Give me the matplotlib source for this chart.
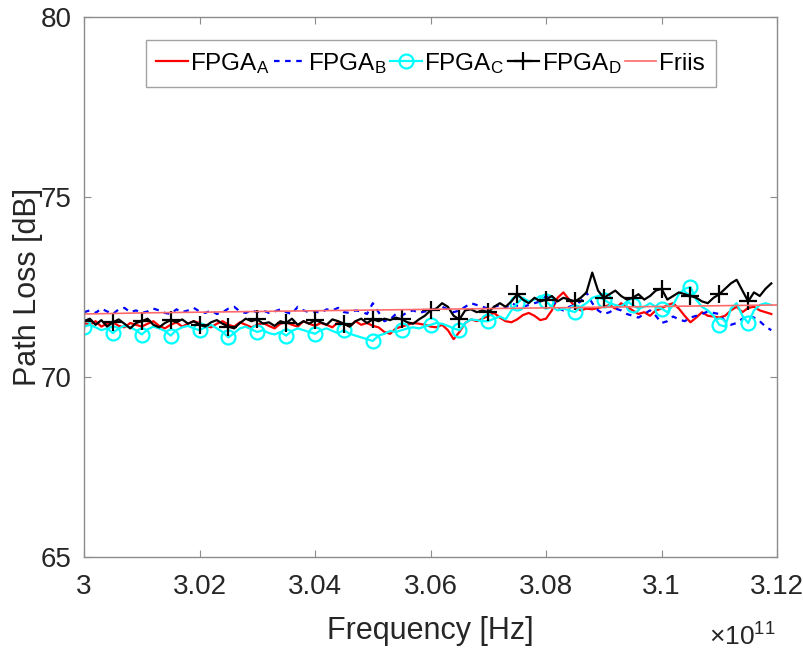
import numpy as np
import matplotlib
matplotlib.use("Agg")
import matplotlib.pyplot as plt
from matplotlib.ticker import FuncFormatter, MultipleLocator

# frequency grid in GHz: 300.0 ... 311.9, step 0.1
freq_ghz = np.round(np.arange(300.0, 312.0, 0.1), 1)

fpga_a = [
    71.50, 71.45, 71.55, 71.40, 71.48, 71.52, 71.42, 71.38, 71.50, 71.45,
    71.40, 71.48, 71.55, 71.42, 71.35, 71.45, 71.52, 71.40, 71.48, 71.55,
    71.50, 71.42, 71.38, 71.48, 71.55, 71.45, 71.40, 71.52, 71.45, 71.38,
    71.45, 71.50, 71.42, 71.35, 71.48, 71.52, 71.45, 71.40, 71.55, 71.48,
    71.42, 71.50, 71.45, 71.38, 71.52, 71.48, 71.40, 71.55, 71.45, 71.50,
    71.42, 71.38, 71.25, 71.20, 71.35, 71.40, 71.45, 71.50, 71.48, 71.45,
    71.40, 71.38, 71.45, 71.30, 71.05, 71.25, 71.50, 71.60, 71.55, 71.62,
    71.70, 71.78, 71.65, 71.55, 71.52, 71.60, 71.72, 71.78, 71.70, 71.58,
    71.62, 71.85, 72.20, 72.35, 72.15, 71.95, 71.85, 71.90, 71.88, 71.92,
    71.95, 72.00, 71.90, 72.05, 71.95, 71.85, 71.75, 71.80, 71.70, 71.85,
    71.90, 72.00, 72.05, 71.90, 71.70, 71.52, 71.65, 71.80, 71.70, 71.68,
    71.65, 71.70, 71.85, 71.95, 71.80, 71.92, 71.95, 71.85, 71.80, 71.75,
]

fpga_b = [
    71.80, 71.85, 71.78, 71.90, 71.82, 71.75, 71.88, 71.92, 71.80, 71.85,
    71.78, 71.82, 71.90, 71.85, 71.78, 71.75, 71.88, 71.80, 71.85, 71.92,
    71.82, 71.78, 71.85, 71.75, 71.80, 71.90, 71.95, 71.82, 71.78, 71.85,
    71.80, 71.85, 71.78, 71.82, 71.88, 71.80, 71.75, 71.95, 71.85, 71.80,
    71.82, 71.78, 71.88, 71.85, 71.92, 71.80, 71.78, 71.85, 71.82, 71.75,
    72.05, 71.80, 71.55, 71.60, 71.75, 71.70, 71.80, 71.85, 71.78, 71.82,
    71.85, 71.90, 71.95, 71.88, 71.80, 71.85, 71.95, 72.05, 72.00, 71.95,
    71.90, 71.95, 72.00, 71.92, 72.05, 71.98, 71.95, 72.00, 72.05, 72.10,
    72.25, 72.20, 71.90, 71.85, 71.95, 72.00, 72.10, 72.35, 72.05, 71.85,
    71.75, 71.80, 71.90, 71.85, 71.75, 71.70, 71.65, 71.75, 71.85, 71.70,
    71.50, 71.55, 71.68, 71.60, 71.55, 71.65, 71.70, 71.75, 71.82, 71.78,
    71.75, 71.55, 71.45, 71.50, 71.62, 71.70, 71.65, 71.55, 71.40, 71.30,
]

fpga_c = [
    71.40, 71.45, 71.38, 71.30, 71.35, 71.22, 71.35, 71.42, 71.38, 71.30,
    71.18, 71.32, 71.40, 71.35, 71.28, 71.15, 71.30, 71.38, 71.42, 71.35,
    71.30, 71.38, 71.45, 71.35, 71.25, 71.10, 71.22, 71.35, 71.40, 71.32,
    71.25, 71.30, 71.22, 71.18, 71.25, 71.15, 71.28, 71.35, 71.30, 71.25,
    71.20, 71.30, 71.35, 71.28, 71.22, 71.30, 71.20, 71.15, 71.10, 71.05,
    71.00, 71.15, 71.20, 71.28, 71.25, 71.30, 71.35, 71.38, 71.35, 71.40,
    71.45, 71.50, 71.48, 71.42, 71.35, 71.30, 71.50, 71.60, 71.58, 71.55,
    71.55, 71.62, 71.68, 71.60, 71.85, 72.05, 72.20, 72.10, 72.15, 72.25,
    72.10, 71.95, 71.85, 71.90, 71.85, 71.80, 71.95, 72.05, 72.20, 72.25,
    72.15, 72.05, 72.00, 71.95, 72.10, 72.00, 71.90, 71.95, 72.05, 71.95,
    71.90, 71.80, 72.00, 72.30, 72.45, 72.50, 72.15, 71.95, 71.85, 71.70,
    71.45, 71.40, 71.90, 72.05, 71.70, 71.50, 71.85, 72.00, 72.05, 72.00,
]

fpga_d = [
    71.55, 71.62, 71.45, 71.58, 71.40, 71.52, 71.60, 71.48, 71.35, 71.50,
    71.55, 71.62, 71.45, 71.38, 71.50, 71.58, 71.52, 71.60, 71.48, 71.55,
    71.45, 71.40, 71.52, 71.58, 71.48, 71.40, 71.35, 71.50, 71.62, 71.55,
    71.60, 71.48, 71.52, 71.42, 71.55, 71.50, 71.62, 71.45, 71.55, 71.48,
    71.58, 71.52, 71.45, 71.60, 71.55, 71.48, 71.40, 71.55, 71.62, 71.50,
    71.60, 71.55, 71.62, 71.58, 71.65, 71.60, 71.52, 71.48, 71.60, 71.70,
    71.85, 71.90, 72.05, 71.95, 71.70, 71.60, 71.85, 71.88, 71.80, 71.85,
    71.80, 71.95, 72.05, 71.95, 72.10, 72.30, 72.15, 72.05, 72.20, 72.10,
    72.15, 72.25, 72.10, 72.20, 72.15, 72.10, 72.20, 72.35, 72.90, 72.40,
    72.20, 72.30, 72.40, 72.25, 72.15, 72.20, 72.30, 72.15, 72.25, 72.40,
    72.45, 72.15, 72.25, 72.35, 72.30, 72.25, 72.20, 72.10, 72.05, 72.20,
    72.30, 72.45, 72.60, 72.70, 72.40, 72.10, 72.35, 72.25, 72.45, 72.60,
]

friis_ghz = [300, 301, 302, 303, 304, 305, 306, 307, 308, 309, 310, 311, 312]
friis_db = [71.75, 71.78, 71.80, 71.82, 71.84, 71.86, 71.88, 71.90, 71.92,
            71.94, 71.96, 71.98, 72.00]

plt.rcParams["font.family"] = ["Liberation Sans", "DejaVu Sans"]
plt.rcParams["mathtext.fontset"] = "custom"
plt.rcParams["mathtext.rm"] = "Liberation Sans"
plt.rcParams["mathtext.default"] = "regular"

fig = plt.figure(figsize=(8.04, 6.53), dpi=100)
ax = fig.add_axes([0.1045, 0.147, 0.862, 0.827])

f_hz = freq_ghz * 1e9
ax.plot(f_hz, fpga_a, color="#ff0000", lw=1.6, label=r"FPGA$_\mathregular{A}$")
ax.plot(f_hz, fpga_b, color="#0000ff", lw=1.6, ls=(0, (2.5, 2.5)),
        label=r"FPGA$_\mathregular{B}$")
ax.plot(f_hz, fpga_c, color="#00ffff", lw=1.6, marker="o", markevery=5,
        markersize=10, markerfacecolor="none", markeredgewidth=1.6,
        label=r"FPGA$_\mathregular{C}$")
ax.plot(f_hz, fpga_d, color="black", lw=1.6, marker="+", markevery=5,
        markersize=13, markeredgewidth=1.6, label=r"FPGA$_\mathregular{D}$")
ax.plot(np.array(friis_ghz) * 1e9, friis_db, color="#ff6a6a", lw=1.2,
        label="Friis")

ax.set_xlim(3.0e11, 3.12e11)
ax.set_ylim(65, 80)
ax.xaxis.set_major_locator(MultipleLocator(0.02e11))
ax.yaxis.set_major_locator(MultipleLocator(5))
ax.xaxis.set_major_formatter(FuncFormatter(lambda v, _: f"{v / 1e11:g}"))

for side in ax.spines.values():
    side.set_color("#8c8c8c")
    side.set_linewidth(1.0)
ax.tick_params(direction="in", length=5, width=0.8, color="#8c8c8c",
               labelsize=20, labelcolor="#262626", top=True, right=True)
ax.tick_params(axis="x", pad=12)
ax.tick_params(axis="y", pad=9)

ax.set_xlabel("Frequency [Hz]", fontsize=22, color="#262626", labelpad=12)
ax.set_ylabel("Path Loss [dB]", fontsize=22, color="#262626", labelpad=-2)
fig.text(0.965, 0.012, r"$\times$10$^{11}$", fontsize=19, color="#262626",
         ha="right", va="baseline")

leg = ax.legend(loc="upper center", ncol=5, frameon=True,
                prop={"size": 17.5},
                fancybox=False, edgecolor="#8c8c8c", handlelength=1.3,
                handletextpad=0.1, columnspacing=0.15, borderpad=0.45,
                borderaxespad=0.95)
leg.get_frame().set_linewidth(1.0)

fig.savefig("out.png", dpi=100)
